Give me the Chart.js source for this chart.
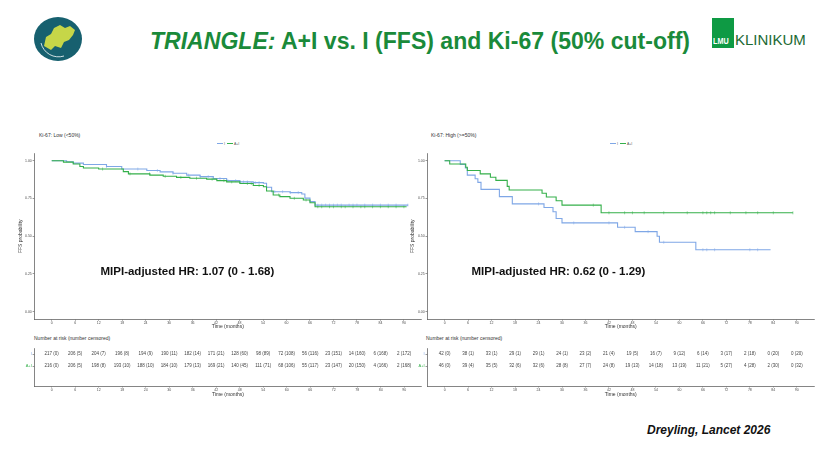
<!DOCTYPE html>
<html lang="en">
<head>
<meta charset="UTF-8">
<title>TRIANGLE: A+I vs. I (FFS) and Ki-67 (50% cut-off)</title>
<script src="https://cdn.jsdelivr.net/npm/chart.js"></script>
<style>
    body {
        margin: 0;
        width: 826px;
        height: 465px;
        background: #fff;
        position: relative;
        overflow: hidden;
        font-family: "Liberation Sans", Arial, sans-serif;
    }
    .abs { position: absolute; white-space: nowrap; }
    canvas { position: absolute; }
    #title {
        left: 150px; top: 27px;
        font-size: 24px; font-weight: bold; color: #1a8a3a;
        transform-origin: left top; transform: scaleX(0.96);
    }
    .small { font-size: 5px; color: #333; }
    .legend { font-size: 3.5px; color: #555; }
    .legend span { display: inline-block; width: 6px; height: 0.8px; vertical-align: middle; margin: 0 1px 0 2px; }
    .hr { font-size: 11.5px; font-weight: bold; color: #111; }
</style>
</head>
<body>

<!-- left logo -->
<svg class="abs" style="left:33px;top:16px" width="50" height="46" viewBox="0 0 50 46">
    <ellipse cx="25" cy="23" rx="24" ry="22" fill="#17606f"/>
    <path d="M11 30 L13 21 L18 18 L21 12 L27 9 L32 12 L37 10 L42 14 L40 19 L36 24 L31 26 L28 32 L22 30 L18 34 Z" fill="#c6d648"/>
    <path d="M8 27 A18 18 0 0 0 31 40" stroke="#fff" stroke-width="0.8" fill="none"/>
</svg>

<div id="title" class="abs"><i>TRIANGLE:</i> A+I vs. I (FFS) and Ki-67 (50% cut-off)</div>

<!-- right logo -->
<div class="abs" style="left:712px;top:18px;width:22px;height:30px;background:#0e9a44;"></div>
<div class="abs" style="left:712.5px;top:36px;font-size:8.5px;font-weight:bold;color:#fff;transform-origin:left top;transform:scaleX(0.85);">LMU</div>
<div class="abs" style="left:735px;top:31px;font-size:15px;color:#1c6a34;">KLINIKUM</div>

<!-- panel labels -->
<div class="abs small" style="left:39px;top:131.5px;">Ki-67: Low (&lt;50%)</div>
<div class="abs small" style="left:431px;top:131.5px;">Ki-67: High (&gt;=50%)</div>
<div class="abs legend" style="left:215px;top:141.5px;"><span style="background:#7fa7e6"></span>I<span style="background:#34b04a"></span>A+I</div>
<div class="abs legend" style="left:608px;top:141.5px;"><span style="background:#7fa7e6"></span>I<span style="background:#34b04a"></span>A+I</div>
<div class="abs small" style="left:34px;top:334.5px;">Number at risk (number censored)</div>
<div class="abs small" style="left:426px;top:334.5px;">Number at risk (number censored)</div>

<canvas id="kmLow" width="426" height="207" style="left:0;top:128px"></canvas>
<canvas id="kmHigh" width="421" height="207" style="left:405px;top:128px"></canvas>
<canvas id="riskLow" width="426" height="66" style="left:0;top:336px"></canvas>
<canvas id="riskHigh" width="421" height="66" style="left:405px;top:336px"></canvas>

<div class="abs hr" style="left:100.5px;top:265px;">MIPI-adjusted HR: 1.07 (0 - 1.68)</div>
<div class="abs hr" style="left:471.5px;top:265px;">MIPI-adjusted HR: 0.62 (0 - 1.29)</div>

<div class="abs" style="left:647px;top:423px;font-size:12px;font-weight:bold;font-style:italic;color:#111;">Dreyling, Lancet 2026</div>

<script>
    const BLUE = '#7fa7e6';
    const GREEN = '#34b04a';

    const timeTicks = [0, 6, 12, 18, 24, 30, 36, 42, 48, 54, 60, 66, 72, 78, 84, 90];
    const probTicks = [0, 0.25, 0.5, 0.75, 1];

    // Ki-67 low (<50%)
    const lowTimesI = [0, 3.8, 5.5, 8.1, 14, 17.9, 24.3, 27.7, 31, 34.5, 37.9, 41.3, 44.7, 48.1, 51.5, 54.1, 54.9, 56.2, 60.9, 63.9, 64.7, 66, 67.3, 91.1];
    const lowSurvI = [1, 0.993, 0.984, 0.975, 0.962, 0.945, 0.935, 0.926, 0.917, 0.905, 0.895, 0.882, 0.868, 0.86, 0.855, 0.851, 0.824, 0.795, 0.789, 0.78, 0.752, 0.729, 0.706, 0.706];
    const lowTimesAI = [0, 3, 5.5, 7.2, 8.1, 12, 18.3, 19.6, 25.1, 28.5, 31.9, 35.3, 39.6, 42.2, 44.7, 48.1, 51.5, 54.1, 54.9, 56.6, 58.3, 60.9, 64.3, 66, 67.3, 90.7];
    const lowSurvAI = [1, 0.991, 0.978, 0.962, 0.952, 0.945, 0.928, 0.913, 0.905, 0.897, 0.89, 0.884, 0.878, 0.868, 0.86, 0.849, 0.836, 0.828, 0.8, 0.773, 0.762, 0.751, 0.74, 0.722, 0.695, 0.695];
    const lowCensI = [14, 22, 27, 31, 35, 38, 40, 43, 45, 47, 49, 50, 52, 53, 57, 59, 61, 63, 68, 69, 70, 71, 72, 73, 74, 76, 77, 78, 80, 82, 84, 86, 88, 91];
    const lowCensAI = [13, 20, 25, 29, 33, 37, 41, 44, 46, 48, 50, 51, 53, 58, 62, 65, 68, 69, 71, 72, 74, 75, 77, 79, 80, 82, 84, 86, 88, 90];

    // Ki-67 high (>=50%)
    const highTimesI = [0, 4.0, 5.3, 5.8, 7.8, 8.5, 9.3, 14, 17.3, 25.4, 27.7, 28.5, 30, 44.2, 48.7, 54.3, 54.9, 64.2, 83.3];
    const highSurvI = [1, 0.976, 0.952, 0.905, 0.881, 0.857, 0.81, 0.762, 0.714, 0.69, 0.662, 0.617, 0.588, 0.559, 0.53, 0.5, 0.46, 0.41, 0.41];
    const highTimesAI = [0, 1.3, 5.4, 5.8, 9.1, 11.7, 13.1, 16, 16.5, 24.9, 26, 28.5, 30, 40, 89];
    const highSurvAI = [1, 0.978, 0.957, 0.935, 0.913, 0.891, 0.87, 0.83, 0.806, 0.785, 0.76, 0.735, 0.706, 0.655, 0.655];
    const highCensI = [24, 33, 42, 46, 52, 56, 66, 67, 69, 78, 80];
    const highCensAI = [38, 42, 46, 48, 51, 56, 62, 66, 67, 68, 69, 73, 77, 80, 84, 89];

    // number at risk (number censored)
    const lowRiskI = [217, 206, 204, 196, 194, 190, 182, 171, 128, 98, 72, 56, 23, 14, 6, 2];
    const lowCensoredI = [0, 5, 7, 8, 9, 11, 14, 21, 60, 89, 108, 116, 151, 160, 168, 172];
    const lowRiskAI = [216, 206, 198, 193, 188, 184, 179, 169, 140, 111, 68, 55, 23, 20, 4, 2];
    const lowCensoredAI = [0, 5, 8, 10, 10, 10, 13, 21, 45, 71, 106, 117, 147, 150, 166, 168];
    const highRiskI = [42, 38, 33, 29, 29, 24, 23, 21, 19, 16, 9, 6, 3, 2, 0, 0];
    const highCensoredI = [0, 1, 1, 1, 1, 1, 2, 4, 5, 7, 12, 14, 17, 18, 20, 20];
    const highRiskAI = [46, 39, 35, 32, 32, 28, 27, 24, 19, 14, 13, 11, 5, 4, 2, 0];
    const highCensoredAI = [0, 4, 5, 6, 6, 8, 7, 8, 13, 18, 19, 21, 27, 28, 30, 32];

    function stepAt(times, surv, t) {
        let s = surv[0];
        for (let i = 0; i < times.length; i++) {
            if (times[i] <= t) s = surv[i];
        }
        return s;
    }

    function curve(times, surv) {
        return times.map((t, i) => ({x: t, y: surv[i]}));
    }

    function marks(cens, times, surv) {
        return cens.map(t => ({x: t, y: stepAt(times, surv, t)}));
    }

    const axisColor = '#333';
    const tickText = '#4d4d4d';

    function xAxis(height) {
        return {
            type: 'linear', min: -4.5, max: 94.5,
            afterBuildTicks: s => { s.ticks = timeTicks.map(v => ({value: v})); },
            afterFit: s => { s.height = height; },
            ticks: {font: {size: 3.5}, color: tickText, padding: 0.5, autoSkip: false, maxRotation: 0},
            grid: {drawOnChartArea: false, tickLength: 1.5, color: axisColor, lineWidth: 0.5},
            border: {color: axisColor, width: 0.6},
            title: {display: true, text: 'Time (months)', font: {size: 5}, color: axisColor, padding: 0}
        };
    }

    function kmChart(id, g, s) {
        new Chart(document.getElementById(id), {
            type: 'scatter',
            data: {
                datasets: [
                    {data: curve(s.tAI, s.sAI), showLine: true, stepped: true, borderColor: GREEN, borderWidth: 1.1, pointRadius: 0},
                    {data: curve(s.tI, s.sI), showLine: true, stepped: true, borderColor: BLUE, borderWidth: 1.1, pointRadius: 0},
                    {data: marks(s.cAI, s.tAI, s.sAI), pointStyle: 'line', rotation: 90, radius: 1.5, borderColor: GREEN, borderWidth: 0.5},
                    {data: marks(s.cI, s.tI, s.sI), pointStyle: 'line', rotation: 90, radius: 1.5, borderColor: BLUE, borderWidth: 0.5}
                ]
            },
            options: {
                responsive: false,
                animation: false,
                events: [],
                layout: {padding: {left: g.padL, right: g.padR, top: 25.2, bottom: 5.3}},
                plugins: {legend: {display: false}, tooltip: {enabled: false}},
                scales: {
                    x: xAxis(10.5),
                    y: {
                        type: 'linear', min: -0.05, max: 1.05,
                        afterBuildTicks: sc => { sc.ticks = probTicks.map(v => ({value: v})); },
                        afterFit: sc => { sc.width = g.yW; },
                        ticks: {font: {size: 3.5}, color: tickText, padding: 0.8, callback: v => v.toFixed(2)},
                        grid: {drawOnChartArea: false, tickLength: 1.5, color: axisColor, lineWidth: 0.5},
                        border: {color: axisColor, width: 0.6},
                        title: {display: true, text: 'FFS probability', font: {size: 5}, color: axisColor, padding: 0}
                    }
                }
            }
        });
    }

    function riskChart(id, g, rows) {
        const riskText = {
            id: 'riskText',
            afterDatasetsDraw(chart) {
                const {ctx, scales: {x, y}} = chart;
                ctx.save();
                ctx.font = '4.5px "Liberation Sans", Arial, sans-serif';
                ctx.fillStyle = '#444';
                ctx.textAlign = 'center';
                ctx.textBaseline = 'middle';
                rows.forEach(r => {
                    timeTicks.forEach((t, i) => {
                        ctx.fillText(r.n[i] + ' (' + r.c[i] + ')', x.getPixelForValue(t), y.getPixelForValue(r.pos));
                    });
                });
                ctx.restore();
            }
        };
        new Chart(document.getElementById(id), {
            type: 'scatter',
            data: {datasets: []},
            plugins: [riskText],
            options: {
                responsive: false,
                animation: false,
                events: [],
                layout: {padding: {left: g.padL, right: g.padR, top: 12.2, bottom: 4.3}},
                plugins: {legend: {display: false}, tooltip: {enabled: false}},
                scales: {
                    x: xAxis(11.7),
                    y: {
                        type: 'linear', min: -0.65, max: 2.5,
                        afterBuildTicks: sc => { sc.ticks = rows.map(r => ({value: r.pos})); },
                        afterFit: sc => { sc.width = g.yW; },
                        ticks: {
                            font: {size: 4}, padding: 0.8,
                            color: c => (c.tick && c.tick.value === 2) ? BLUE : GREEN,
                            callback: v => v === 2 ? 'I' : 'A+I'
                        },
                        grid: {drawOnChartArea: false, tickLength: 1.5, color: axisColor, lineWidth: 0.5},
                        border: {color: axisColor, width: 0.6}
                    }
                }
            }
        });
    }

    const geoLow = {padL: 17.3, yW: 16.8, padR: 4.2};
    const geoHigh = {padL: 5, yW: 17, padR: 11.6};

    kmChart('kmLow', geoLow, {tI: lowTimesI, sI: lowSurvI, tAI: lowTimesAI, sAI: lowSurvAI, cI: lowCensI, cAI: lowCensAI});
    kmChart('kmHigh', geoHigh, {tI: highTimesI, sI: highSurvI, tAI: highTimesAI, sAI: highSurvAI, cI: highCensI, cAI: highCensAI});

    riskChart('riskLow', {padL: 0, yW: 34.1, padR: 4.2}, [
        {pos: 2, n: lowRiskI, c: lowCensoredI},
        {pos: 1, n: lowRiskAI, c: lowCensoredAI}
    ]);
    riskChart('riskHigh', {padL: 0, yW: 22, padR: 11.6}, [
        {pos: 2, n: highRiskI, c: highCensoredI},
        {pos: 1, n: highRiskAI, c: highCensoredAI}
    ]);
</script>
</body>
</html>
